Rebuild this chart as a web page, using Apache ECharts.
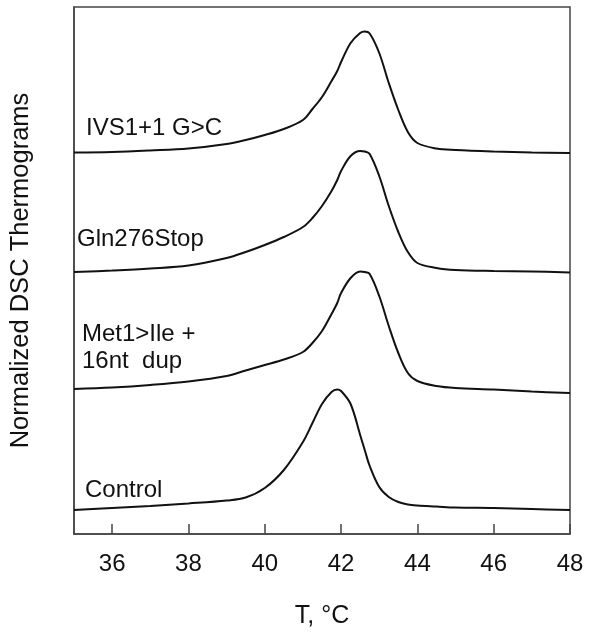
<!DOCTYPE html>
<html>
<head>
<meta charset="utf-8">
<script src="https://cdn.jsdelivr.net/npm/echarts@6/dist/echarts.min.js"></script>
<style>html,body{margin:0;padding:0;background:#fff;}#c{width:598px;height:640px;}</style>
</head>
<body>
<div id="c"></div>
<script>
// Temperature grid (°C)
const temps = [35, 36, 37, 38, 39, 39.5, 40, 40.5, 41, 41.25, 41.5, 41.75, 41.9, 42, 42.25, 42.5, 42.62, 42.75, 43, 43.25, 43.5, 43.75, 44, 44.5, 45, 46, 47, 48];
// Normalized, vertically offset thermograms (arbitrary units)
const ivs     = [381.5, 382, 383.5, 385.5, 390, 394, 399, 405, 414, 425, 437, 453, 463, 472, 491, 501, 502.5, 500.5, 481, 451, 424, 402, 391, 385.5, 384, 382.5, 381.5, 381];
const gln     = [262, 263.5, 265.5, 268.5, 276, 282, 289, 297, 307, 316, 328, 343, 354, 363, 378, 383, 382.5, 380, 358, 328, 302, 282, 271, 266, 264, 263, 262.5, 261.5];
const met     = [145, 146.5, 149, 152.5, 158, 163.5, 169, 174.5, 182, 191, 203, 220, 231, 241, 256, 262.5, 262, 260, 238, 208, 181, 161, 153, 148, 146, 144.5, 142.5, 141];
const control = [24, 26, 28, 30.5, 33.5, 36.5, 46, 64, 92, 111, 130, 142, 144.5, 143, 130, 99, 84, 68, 47, 37, 32, 29.5, 28.5, 27.5, 26.5, 26, 25, 24];
const seriesNames = ['IVS1+1 G>C', 'Gln276Stop', 'Met1>Ile +\n16nt  dup', 'Control'];
const xTicks = [36, 38, 40, 42, 44, 46, 48];

const FONT = 'Liberation Sans, Arial, sans-serif';
const chart = echarts.init(document.getElementById('c'), null, {renderer: 'canvas'});

function mk(name, vals) {
  return {
    name: name, type: 'line', smooth: 0.35, showSymbol: false,
    data: temps.map((t, i) => [t, vals[i]]),
    lineStyle: {color: '#111', width: 2}, itemStyle: {color: '#111'},
    animation: false
  };
}

chart.setOption({
  backgroundColor: '#fff',
  animation: false,
  grid: {left: 73, right: 28, top: 7, bottom: 106, show: true, borderColor: '#444', borderWidth: 1.5, backgroundColor: 'transparent'},
  xAxis: {
    type: 'value', min: 35, max: 48,
    name: 'T, °C', nameLocation: 'middle', nameGap: 70,
    nameTextStyle: {fontFamily: FONT, fontSize: 25, color: '#111'},
    axisLine: {show: true, lineStyle: {color: '#444', width: 1.5}},
    axisTick: {show: true, inside: true, length: 10, customValues: xTicks, lineStyle: {color: '#444', width: 1.5}},
    axisLabel: {show: true, customValues: xTicks, margin: 18, fontFamily: FONT, fontSize: 24, color: '#111'},
    splitLine: {show: false}
  },
  yAxis: {
    type: 'value', min: 0, max: 527,
    name: 'Normalized DSC Thermograms', nameLocation: 'middle', nameGap: 40, nameRotate: 90,
    nameTextStyle: {fontFamily: FONT, fontSize: 25.5, color: '#111'},
    axisLine: {show: true, lineStyle: {color: '#444', width: 1.5}},
    axisTick: {show: false}, axisLabel: {show: false}, splitLine: {show: false}
  },
  graphic: [
    {type: 'text', left: 86, top: 116, style: {text: seriesNames[0], font: '24px ' + FONT, fill: '#111'}},
    {type: 'text', left: 77, top: 227, style: {text: seriesNames[1], font: '24px ' + FONT, fill: '#111'}},
    {type: 'text', left: 82, top: 321, style: {text: seriesNames[2], font: '24px ' + FONT, fill: '#111', lineHeight: 27}},
    {type: 'text', left: 85, top: 478, style: {text: seriesNames[3], font: '24px ' + FONT, fill: '#111'}}
  ],
  series: [mk(seriesNames[0], ivs), mk(seriesNames[1], gln), mk(seriesNames[2], met), mk(seriesNames[3], control)]
});
</script>
</body>
</html>
